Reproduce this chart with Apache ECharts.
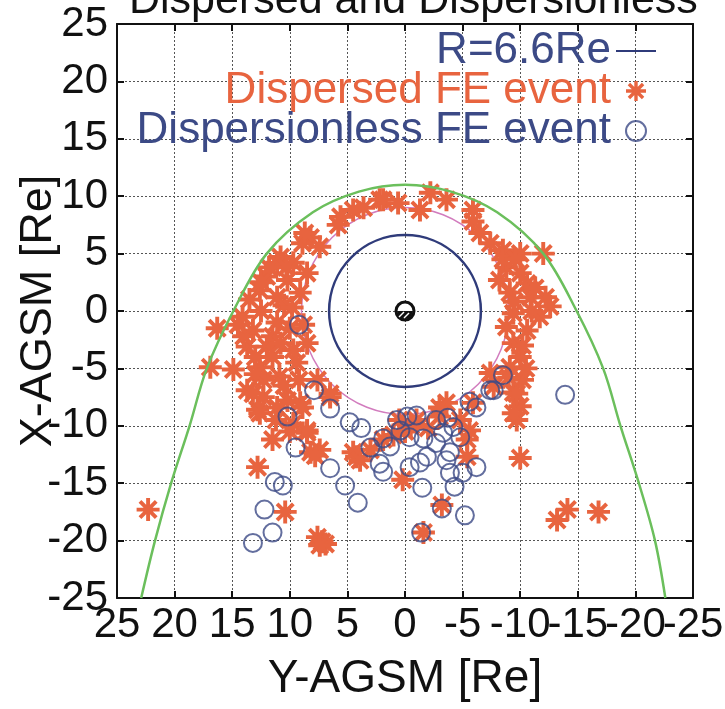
<!DOCTYPE html>
<html>
<head>
<meta charset="utf-8">
<script src="https://cdn.jsdelivr.net/npm/echarts@6/dist/echarts.min.js"></script>
<style>html,body{margin:0;padding:0;background:#fff}#c{width:725px;height:709px}</style>
</head>
<body>
<div id="c"></div>
<script>
// ---- data: [Y-AGSM, X-AGSM] pairs in Re ----
const axisTicks = [-25,-20,-15,-10,-5,0,5,10,15,20,25];
const geoRadius = 6.6;          // R=6.6Re circle
const innerRadius = 9;          // magenta reference circle
const magnetopause = [[22.9,-25],[21.7,-20],[20.3,-15],[18.7,-10],[17.2,-5],[14.9,0],[12.0,5],[8.0,8.6],[4.0,10.4],[0,11],[-4.0,10.4],[-8.0,8.6],[-12.0,5],[-14.9,0],[-17.2,-5],[-18.7,-10],[-20.3,-15],[-21.7,-20],[-22.6,-25]];
const dispersed = [
[2.2,9.7],[3.6,9.0],[4.5,8.8],[5.6,8.2],[5.8,7.5],[1.9,9.7],[0.6,9.4],[-2.2,10.3],[-3.6,9.7],[-1.3,8.8],[-5.9,8.8],[-5.9,7.8],[-6.5,6.8],[-7.4,5.9],[-8.5,5.3],[-10.0,5.0],[-12.0,5.0],[8.2,6.4],[8.9,5.9],[7.4,5.6],[8.7,6.8],
[10.8,4.7],[11.1,4.2],[9.7,4.2],[8.5,3.3],[12.0,3.0],[12.6,1.8],[10.2,2.7],[9.1,1.6],[11.1,1.2],[14.1,-0.5],[16.3,-1.5],[13.2,-1.7],[11.1,-1.0],[12.0,-3.1],[13.7,-3.1],[9.7,-3.4],[8.5,-2.8],[16.9,-4.9],[14.9,-5.1],[12.6,-4.9],[10.9,-5.7],[9.4,-4.5],[13.7,-6.9],[12.3,-7.5],[12.8,-8.6],[11.1,-8.4],[9.1,-8.0],[11.5,-11.2],[8.5,-10.6],[7.6,-6.0],[6.5,-7.5],[8.9,-8.4],[10.2,-7.8],[13.2,-7.2],[12.6,-8.9],[8.5,-10.4],[9.7,-9.8],[12.8,-13.6],[8.2,-12.3],[7.4,-12.1],[7.8,-12.6],[10.4,-17.5],[22.3,-17.3],[7.2,-20.1],[7.6,-19.7],[6.9,-20.3],[7.4,-20.4],[6.5,-7.2],
[10.5,0.5],[12.5,0.0],[13.5,1.0],[11.5,-2.2],[10.0,-1.5],[13.0,-4.0],[11.5,-4.0],[12.3,-6.0],[10.5,-6.5],[9.2,-6.0],[14.0,-2.2],[11.8,3.8],[10.3,3.8],[12.5,2.5],[13.0,-5.5],[9.8,0.3],[11.2,-9.5],[10.0,-10.5],[14.5,-1.2],[10.8,-2.8],[8.8,-1.2],
[-8.8,3.8],[-8.2,2.7],[-10.0,3.3],[-10.6,2.4],[-9.1,1.6],[-10.9,1.2],[-12.6,0.4],[-12.2,1.2],[-11.7,-0.5],[-9.4,-0.2],[-8.8,-1.4],[-10.6,-1.7],[-9.4,-2.8],[-10.0,-4.0],[-9.1,-4.9],[-10.2,-6.0],[-9.4,-7.1],[-10.0,-8.3],[-9.7,-9.5],[-7.4,-5.4],[-7.7,-6.6],[-9.7,-7.2],[-9.4,-8.9],[-10.0,-12.8],[-9.5,0.8],[-10.2,-3.0],[-9.0,-5.8],[-10.5,-5.0],[-11.0,0.0],[-8.5,4.5],[-9.6,4.5],[-11.3,2.0],
[-13.2,-18.2],[-14.1,-17.3],[-16.8,-17.5],[0.2,-14.7],[-3.2,-16.9],[-1.6,-19.3],[4.2,-12.7],[4.5,-12.3],[3.9,-13.0],[1.9,-11.2],[3.0,-12.1],[-5.4,-11.2],[-5.6,-10.4],[-5.4,-12.7],[-3.0,-9.2],[-4.8,-9.5],[-3.6,-8.0],[-3.0,-8.4],[0.5,-9.5],[-0.5,-10.0],[0.0,-10.5],[-1.0,-9.5],[-5.9,-8.0],[1.0,-10.8],[-2.0,-10.2]
];
const dispersionless = [
[9.2,-1.2],[7.9,-6.9],[6.5,-8.5],[10.2,-9.2],[9.5,-11.9],[4.8,-9.7],[3.8,-10.2],[6.5,-13.7],[5.2,-15.2],[4.1,-16.7],[11.3,-14.9],[10.6,-15.2],[12.2,-17.3],[11.5,-19.3],[13.2,-20.2],[3.0,-11.9],[2.2,-13.3],[1.9,-14.0],[-1.4,-19.3],[-13.9,-7.3],[-6.2,-13.6],[-5.2,-17.8],[-3.2,-17.2],[-4.3,-15.3],[-3.9,-14.1],[-1.5,-15.4],[-3.6,-13.0],[-6.2,-8.4],[-5.6,-7.9],[-7.4,-6.9],[-8.5,-5.6],[-7.7,-6.9],
[1.9,-11.1],[0.7,-9.5],[-0.2,-9.2],[-1.0,-9.1],[0.4,-10.4],[-0.4,-11.0],[-1.6,-11.1],[-2.7,-9.5],[-3.7,-9.3],[-4.2,-10.1],[-3.3,-10.6],[-4.8,-11.0],[-2.7,-11.5],[-3.9,-12.3],[-1.9,-12.7],[-1.3,-13.2],[-0.4,-13.6],[-5.0,-14.1],[1.3,-11.8]
];
const legendNames = ['R=6.6Re','Dispersed FE event','Dispersionless FE event'];

// ---- styles ----
const ORANGE = '#E8643F', NAVY = '#3C4A86', CIRC = '#2F3B7A', MAGENTA = '#D27CBE', GREEN = '#6BBF5C';
const FONT = '"Liberation Sans", Arial, Helvetica, sans-serif';

function asteriskPath(){
  const c = 50, R = 50, w = 8.5; let p = '';
  [0,45,90,135].forEach(a=>{
    const t = a*Math.PI/180, dx=Math.cos(t), dy=Math.sin(t), nx=-dy, ny=dx;
    const pts = [[c+R*dx+w*nx,c+R*dy+w*ny],[c+R*dx-w*nx,c+R*dy-w*ny],[c-R*dx-w*nx,c-R*dy-w*ny],[c-R*dx+w*nx,c-R*dy+w*ny]];
    p += 'M'+pts.map(q=>q[0].toFixed(2)+','+q[1].toFixed(2)).join('L')+'Z';
  });
  return 'path://'+p;
}
const ASTER = asteriskPath();

function circleRender(color, width){
  return function(params, api){
    const c = api.coord([api.value(0), api.value(1)]);
    const r = api.size([api.value(2), api.value(2)]);
    return {type:'circle', shape:{cx:c[0], cy:c[1], r:(r[0]+r[1])/2}, style:{fill:'none', stroke:color, lineWidth:width}};
  };
}

const chart = echarts.init(document.getElementById('c'), null, {renderer:'canvas'});
const axisCommon = {
  type:'value', min:axisTicks[0], max:axisTicks[axisTicks.length-1], interval:5,
  axisLine:{show:true, onZero:false, lineStyle:{color:'#111', width:2}},
  axisTick:{show:true, inside:true, length:7, lineStyle:{color:'#111', width:2}},
  splitLine:{show:false}
};
const xLabelBase = {show:true, margin:6, hideOverlap:false, showMinLabel:true, showMaxLabel:true, fontFamily:FONT, fontSize:42, color:'#111'};
chart.setOption({
  animation:false,
  backgroundColor:'#fff',
  title:{text:'Dispersed and Dispersionless', left:124, top:-25, textStyle:{fontFamily:FONT, fontSize:43, fontWeight:'normal', color:'#111'}},
  grid:{left:117, right:32, top:24, bottom:111, containLabel:false, outerBoundsMode:'none'},
  legend:{
    orient:'vertical', right:64, top:24, align:'right', itemGap:-4, itemWidth:40, itemHeight:20,
    textStyle:{fontFamily:FONT, fontSize:44},
    data:[
      {name:legendNames[0], icon:'path://M0,0M0,9h40v2h-40zM40,20', itemStyle:{color:CIRC}, textStyle:{color:NAVY}},
      {name:legendNames[1], textStyle:{color:ORANGE}},
      {name:legendNames[2], textStyle:{color:NAVY}}
    ]
  },
  xAxis:[
    Object.assign({}, axisCommon, {position:'bottom', inverse:true,
      name:'Y-AGSM [Re]', nameLocation:'middle', nameGap:58, nameMoveOverlap:false, nameTextStyle:{fontFamily:FONT, fontSize:46, color:'#111'},
      axisLabel:Object.assign({}, xLabelBase, {formatter:v=> (Math.abs(v)%10===5 ? String(v) : '')}),
      splitLine:{show:true, lineStyle:{color:'#555', width:1, type:[2,2]}}}),
    Object.assign({}, axisCommon, {position:'top', inverse:true, axisLabel:{show:false}}),
    Object.assign({}, axisCommon, {position:'bottom', inverse:true, axisLine:{show:false}, axisTick:{show:false},
      axisLabel:Object.assign({}, xLabelBase, {formatter:v=> (Math.abs(v)%10===0 ? String(v) : '')})})
  ],
  yAxis:[
    Object.assign({}, axisCommon, {position:'left',
      name:'X-AGSM [Re]', nameLocation:'middle', nameGap:56, nameMoveOverlap:false, nameTextStyle:{fontFamily:FONT, fontSize:45, color:'#111'},
      axisLabel:{show:true, margin:9, hideOverlap:false, showMinLabel:true, showMaxLabel:true, fontFamily:FONT, fontSize:42, color:'#111'},
      splitLine:{show:true, lineStyle:{color:'#555', width:1, type:[2,2]}}}),
    Object.assign({}, axisCommon, {position:'right', axisLabel:{show:false}})
  ],
  series:[
    {name:'ref9', type:'custom', renderItem:circleRender(MAGENTA, 1.5), data:[[0,0,innerRadius]], z:1, silent:true},
    {name:legendNames[0], type:'custom', renderItem:circleRender(CIRC, 2.5), data:[[0,0,geoRadius]], z:2, itemStyle:{color:CIRC}},
    {name:'earth', type:'custom', z:3, data:[[0,0]], renderItem:function(params, api){
      const c = api.coord([0,0]);
      return {type:'group', children:[
        {type:'circle', shape:{cx:c[0], cy:c[1], r:9}, style:{fill:'#fff', stroke:'#111', lineWidth:3}},
        {type:'sector', shape:{cx:c[0], cy:c[1], r0:0, r:8, startAngle:0, endAngle:Math.PI}, style:{fill:'#111'}},
        {type:'line', shape:{x1:c[0]-6, y1:c[1]+6, x2:c[0]-1, y2:c[1]+1}, style:{stroke:'#fff', lineWidth:1.5}},
        {type:'line', shape:{x1:c[0]-1, y1:c[1]+7, x2:c[0]+4, y2:c[1]+2}, style:{stroke:'#fff', lineWidth:1.5}}
      ]};
    }},
    {name:legendNames[1], type:'scatter', data:dispersed, symbol:ASTER, symbolSize:23, itemStyle:{color:ORANGE, opacity:1}, z:4},
    {name:'magnetopause', type:'line', data:magnetopause, smooth:0.35, symbol:'none', lineStyle:{color:GREEN, width:2.5}, z:5, silent:true},
    {name:legendNames[2], type:'scatter', data:dispersionless, symbol:'circle', symbolSize:18, itemStyle:{color:'rgba(0,0,0,0)', borderColor:NAVY, borderWidth:2}, z:6}
  ]
});
</script>
</body>
</html>
